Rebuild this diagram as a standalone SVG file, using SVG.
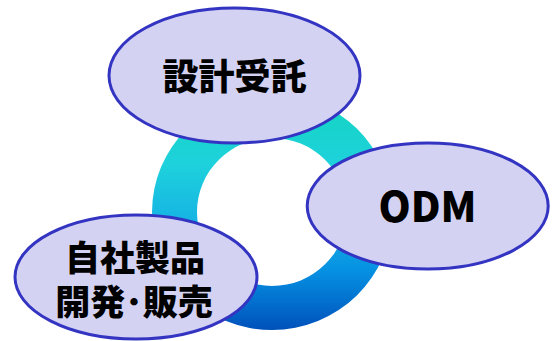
<svg xmlns="http://www.w3.org/2000/svg" width="552" height="341" viewBox="0 0 552 341">
  <defs>
    <linearGradient id="ringGrad" x1="0" y1="93" x2="0" y2="331" gradientUnits="userSpaceOnUse">
      <stop offset="0" stop-color="#12D4BE"/>
      <stop offset="0.3" stop-color="#1ED2DC"/>
      <stop offset="0.55" stop-color="#15B2E4"/>
      <stop offset="0.75" stop-color="#0590E2"/>
      <stop offset="1" stop-color="#0050BA"/>
    </linearGradient>
    <style>
      .node { fill: #D3D2F3; stroke: #3434C2; stroke-width: 3; }
      .label { font-family: "Noto Sans CJK JP", "Noto Sans", sans-serif; font-weight: 900; fill: #000000; text-anchor: middle; }
    </style>
  </defs>
  <rect width="552" height="341" fill="#FFFFFF"/>
  <g id="ring">
    <path fill="url(#ringGrad)" fill-rule="evenodd" d="M152,212 A120,118 0 1,0 392,212 A120,118 0 1,0 152,212 Z M197,212 A75,74 0 1,0 347,212 A75,74 0 1,0 197,212 Z"/>
  </g>
  <g id="connectors"></g>
  <g id="node-sekkei">
    <ellipse class="node" cx="234.5" cy="75.5" rx="125.5" ry="67.5"/>
    <text class="label" x="234.5" y="90" font-size="36">設計受託</text>
  </g>
  <g id="node-odm">
    <ellipse class="node" cx="427.7" cy="206" rx="120.5" ry="63"/>
    <text class="label" x="427.5" y="222" font-size="41">ODM</text>
  </g>
  <g id="node-jisha">
    <ellipse class="node" cx="136" cy="277" rx="121" ry="62"/>
    <text class="label" font-size="35"><tspan x="135" y="271">自社製品</tspan><tspan x="134" y="315">開発･販売</tspan></text>
  </g>
</svg>
